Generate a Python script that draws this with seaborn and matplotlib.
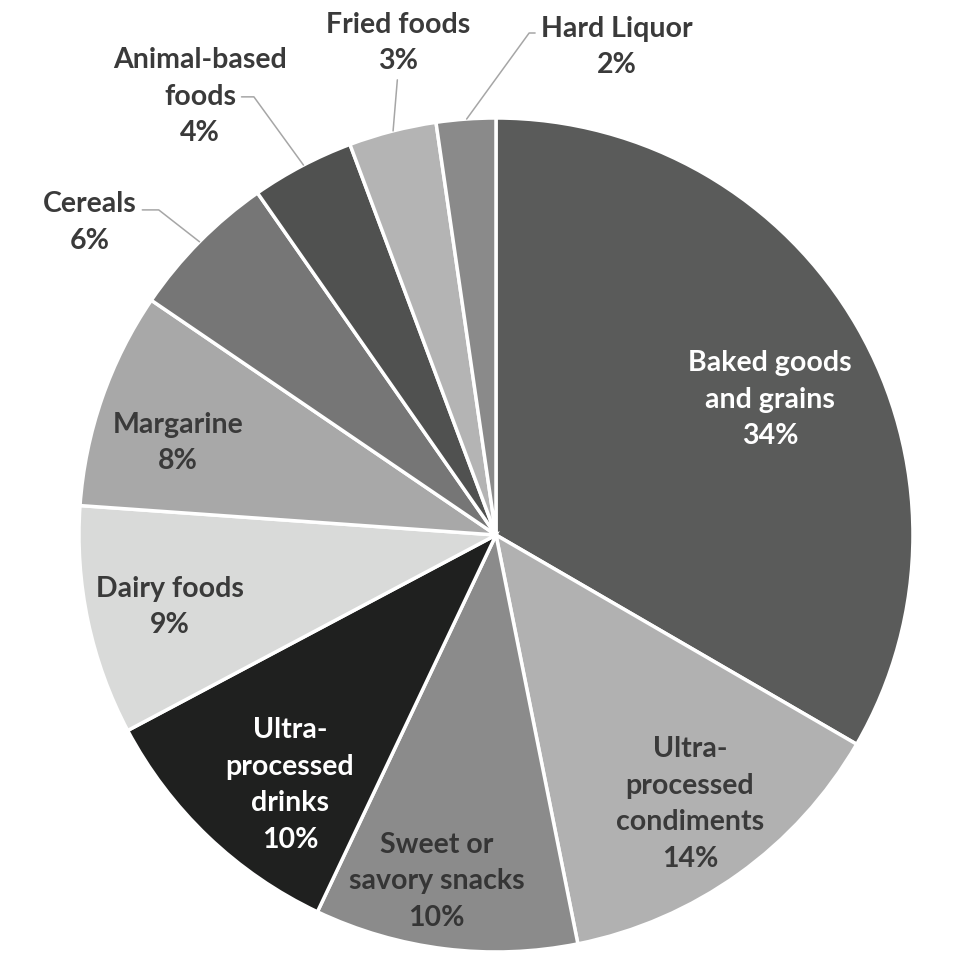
import numpy as np
import matplotlib
matplotlib.use("Agg")
import matplotlib.pyplot as plt
import seaborn as sns

# slices, clockwise from 12 o'clock
categories = ["Baked goods\nand grains", "Ultra-\nprocessed\ncondiments", "Sweet or\nsavory snacks",
              "Ultra-\nprocessed\ndrinks", "Dairy foods", "Margarine", "Cereals",
              "Animal-based\nfoods", "Fried foods", "Hard Liquor"]
shares = [33.4, 13.5, 10.2, 10.2, 8.9, 8.4, 5.8, 4.0, 3.4, 2.3]
shown_pct = [34, 14, 10, 10, 9, 8, 6, 4, 3, 2]

slice_colors = ["#5a5b5a", "#b1b1b1", "#8b8b8b", "#1f201f", "#d9dad9",
                "#a8a8a8", "#767676", "#505150", "#b4b4b4", "#8a8a8a"]
text_colors = ["white", "#3a3a3a", "#353535", "white", "#3a3a3a",
               "#3a3a3a", "#3a3a3a", "#3a3a3a", "#3a3a3a", "#3a3a3a"]

# label placement: radius (pie radius = 1) and angle shift from slice middle
label_r = [0.733, 0.795, 0.842, 0.777, 0.80, 0.794, 1.229, 1.268, 1.203, 1.206]
label_shift = [-3.7, 0.2, -2.7, 4.2, 0.5, 3.0, 7.1, 6.35, -3.1, -18.0]
# leader lines for the small outside slices: index -> (relpos, connectionstyle, attach shift)
leaders = {
    6: ((1.0, 0.7), "angle,angleA=0,angleB=-38,rad=0", 0.0),
    7: ((0.707, 0.5), "angle,angleA=0,angleB=-54,rad=0", -0.2),
    8: ((0.5, 0.0), "arc3,rad=0", -0.1),
    9: ((0.0, 0.72), "angle,angleA=0,angleB=54,rad=0", -0.1),
}

sns.set_theme(style="white")
plt.rcParams["font.family"] = ["Lato", "DejaVu Sans"]

fig = plt.figure(figsize=(9.8, 9.72), dpi=100)
ax = fig.add_axes([0.0806, 0.0206, 0.851, 0.858])

wedges, _ = ax.pie(shares, colors=slice_colors, startangle=90, counterclock=False,
                   radius=1, wedgeprops=dict(edgecolor="white", linewidth=2.5))
for w in wedges:
    w.set_clip_on(False)
ax.set_xlim(-1, 1)
ax.set_ylim(-1, 1)
ax.set_aspect("equal")
ax.axis("off")

bounds = 90 - 360 * np.concatenate([[0], np.cumsum(shares)]) / np.sum(shares)
mids = (bounds[:-1] + bounds[1:]) / 2

for i, (cat, pct) in enumerate(zip(categories, shown_pct)):
    a = np.deg2rad(mids[i] + label_shift[i])
    pos = (label_r[i] * np.cos(a), label_r[i] * np.sin(a))
    txt = f"{cat}\n{pct}%"
    kw = dict(ha="center", va="center", fontsize=20.5, fontweight="bold",
              color=text_colors[i], linespacing=1.5)
    if i in leaders:
        relpos, cstyle, sh = leaders[i]
        b = np.deg2rad(mids[i] + sh)
        ax.annotate(txt, xy=(np.cos(b), np.sin(b)), xytext=pos, annotation_clip=False,
                    arrowprops=dict(arrowstyle="-", color="#a6a6a6", lw=1.1,
                                    relpos=relpos, connectionstyle=cstyle,
                                    patchA=None, shrinkA=4, shrinkB=0), **kw)
    else:
        ax.text(pos[0], pos[1], txt, **kw)

fig.savefig("out.png", dpi=100, facecolor="white")
